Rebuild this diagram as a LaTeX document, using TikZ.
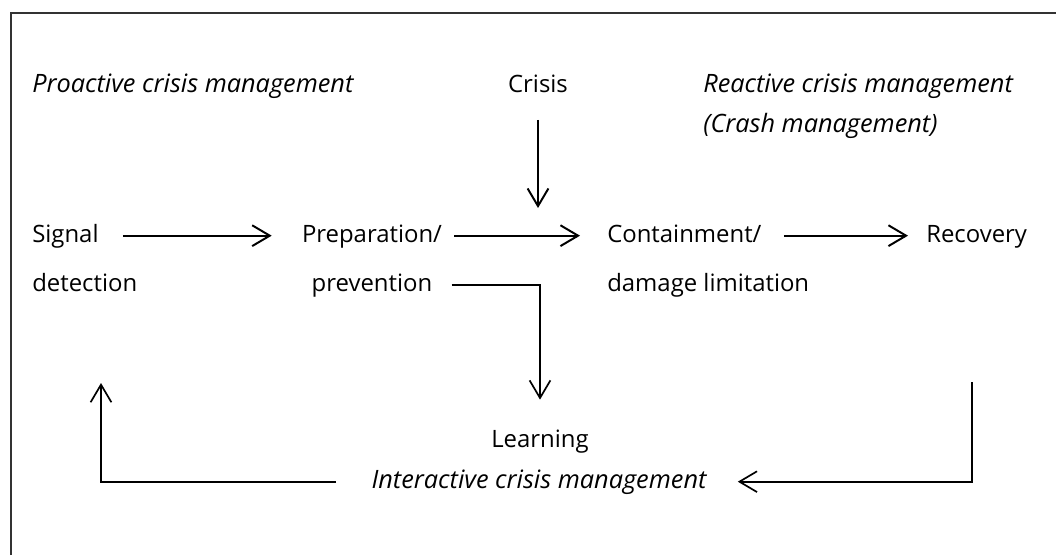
\documentclass[tikz,border=0pt]{standalone}
\usepackage{fontspec}
\setmainfont{Open Sans}
\usepackage{tikz}
\usetikzlibrary{arrows.meta}

\begin{document}
\begin{tikzpicture}[x=0.025cm, y=-0.025cm, >={Straight Barb[length=4.4mm, width=5.2mm]},
    txt/.style={inner sep=0pt, text height=13pt, text depth=4pt, font=\fontsize{17}{20}\selectfont},
    itx/.style={txt, font=\fontsize{18}{21}\selectfont\itshape},
    arr/.style={->, line width=1.4pt},
    link/.style={->, line width=1.2pt}]
    \useasboundingbox (0,0) rectangle (1056,555);
    \draw[line width=0.8pt, black!80] (11,555) -- (11,13) -- (1056,13);

    \node (proactive) [itx, anchor=base west] at (32,92) {Proactive crisis management};
    \node (crisis) [txt, anchor=base] at (538,92) {Crisis};
    \node (reactive) [itx, anchor=base west] at (703,92) {Reactive crisis management};
    \node (crash) [itx, anchor=base west] at (703,132) {(Crash management)};

    \node (signal) [txt, anchor=base west] at (32,242) {Signal};
    \node (detect) [txt, anchor=base west] at (32,291) {detection};
    \node (prep) [txt, anchor=base] at (372,242) {Preparation/};
    \node (prev) [txt, anchor=base] at (372,291) {prevention};
    \node (contain) [txt, anchor=base west] at (607,242) {Containment/};
    \node (damage) [txt, anchor=base west] at (607,291) {damage limitation};
    \node (recovery) [txt, anchor=base west] at (926,242) {Recovery};

    \node (learning) [txt, anchor=base] at (540,447) {Learning};
    \node (interactive) [itx, anchor=base] at (539,488) {Interactive crisis management};

    \coordinate (hit) at (538,208);
    \coordinate (recout) at (972,382);
    \coordinate (back) at (101,383);

    \draw[arr, shorten <=0.6cm, shorten >=0.75cm] (signal.east) -- (signal.east -| prep.west);
    \draw[arr, shorten <=0.3cm, shorten >=0.675cm] (prep.east) -- (prep.east -| contain.west);
    \draw[arr, shorten <=0.55cm, shorten >=0.45cm] (contain.east) -- (contain.east -| recovery.west);
    \draw[arr, shorten <=0.55cm] (crisis.south) -- (hit);

    % feedback through learning
    \draw[link, shorten <=0.475cm, shorten >=0.72cm] (prev.east) -| (learning.north);
    \draw[link, shorten >=0.775cm] (recout) |- (interactive.east);
    \draw[link, shorten <=0.875cm] (interactive.west) -| (back);
\end{tikzpicture}
\end{document}
